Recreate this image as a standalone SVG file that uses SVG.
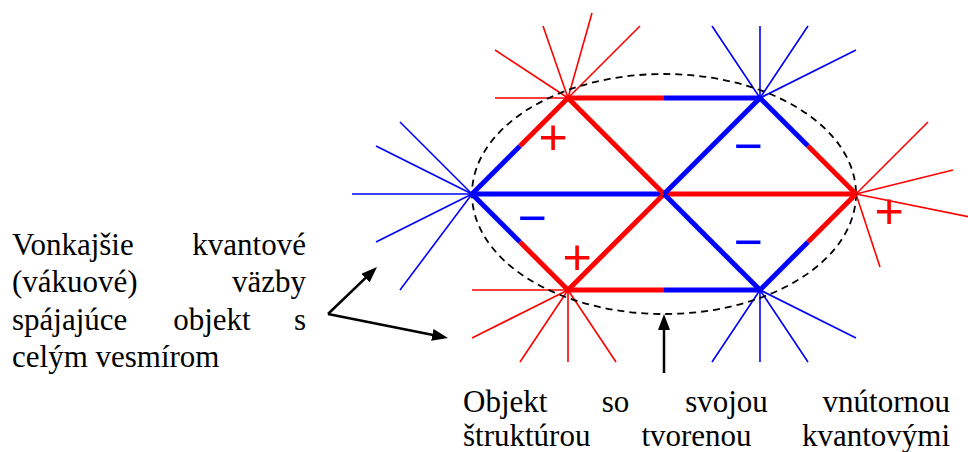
<svg xmlns="http://www.w3.org/2000/svg" width="968" height="452" viewBox="0 0 968 452">
<style>
.r{stroke:#ff0000;stroke-width:1.6;fill:none}
.b{stroke:#0000ff;stroke-width:1.6;fill:none}
.R{stroke:#ff0000;stroke-width:5;fill:none}
.B{stroke:#0000ff;stroke-width:5;fill:none}
.ell{stroke:#000;stroke-width:1.8;fill:none;stroke-dasharray:7 5}
.arr{stroke:#000;stroke-width:2.5;fill:none;marker-end:url(#ah)}
.sg{font-family:'Liberation Sans',Arial,sans-serif;font-size:50px;text-anchor:middle}
.sr{fill:#ff0000}
.sb{fill:#0000ff}
</style>
<defs>
<marker id="ah" markerUnits="userSpaceOnUse" markerWidth="16" markerHeight="12" refX="6" refY="6" orient="auto" viewBox="0 0 16 12">
<path d="M0,0 L16,6 L0,12 z" fill="#000"/>
</marker>
</defs>
<rect width="968" height="452" fill="#fff"/>
<g id="rays">
<g id="rays-TL">
<line class="r" x1="568" y1="98" x2="495" y2="50"/>
<line class="r" x1="568" y1="98" x2="543" y2="26"/>
<line class="r" x1="568" y1="98" x2="592" y2="13"/>
<line class="r" x1="568" y1="98" x2="640" y2="26"/>
<line class="r" x1="568" y1="98" x2="495" y2="98"/>
</g>
<g id="rays-TR">
<line class="b" x1="760" y1="98" x2="712" y2="26"/>
<line class="b" x1="760" y1="98" x2="760" y2="26"/>
<line class="b" x1="760" y1="98" x2="808" y2="26"/>
<line class="b" x1="760" y1="98" x2="856" y2="50"/>
</g>
<g id="rays-L">
<line class="b" x1="472" y1="194" x2="400" y2="122"/>
<line class="b" x1="472" y1="194" x2="376" y2="146"/>
<line class="b" x1="472" y1="194" x2="352" y2="194"/>
<line class="b" x1="472" y1="194" x2="376" y2="242"/>
<line class="b" x1="472" y1="194" x2="400" y2="290"/>
</g>
<g id="rays-R">
<line class="r" x1="856" y1="194" x2="928" y2="122"/>
<line class="r" x1="856" y1="194" x2="953" y2="170"/>
<line class="r" x1="856" y1="194" x2="975" y2="218"/>
<line class="r" x1="856" y1="194" x2="880" y2="267"/>
</g>
<g id="rays-BL">
<line class="r" x1="568" y1="290" x2="472" y2="290"/>
<line class="r" x1="568" y1="290" x2="472" y2="338"/>
<line class="r" x1="568" y1="290" x2="520" y2="362"/>
<line class="r" x1="568" y1="290" x2="568" y2="362"/>
<line class="r" x1="568" y1="290" x2="616" y2="362"/>
</g>
<g id="rays-BR">
<line class="b" x1="760" y1="290" x2="712" y2="362"/>
<line class="b" x1="760" y1="290" x2="760" y2="362"/>
<line class="b" x1="760" y1="290" x2="808" y2="362"/>
<line class="b" x1="760" y1="290" x2="856" y2="338"/>
</g>
</g>
<ellipse id="object-boundary" class="ell" cx="664" cy="194" rx="192" ry="120"/>
<g id="lattice">
<line class="R" x1="568" y1="98" x2="664" y2="98"/>
<line class="B" x1="664" y1="98" x2="760" y2="98"/>
<line class="B" x1="472" y1="194" x2="664" y2="194"/>
<line class="R" x1="664" y1="194" x2="856" y2="194"/>
<line class="R" x1="568" y1="290" x2="664" y2="290"/>
<line class="B" x1="664" y1="290" x2="760" y2="290"/>
<line class="B" x1="472" y1="194" x2="520" y2="146"/>
<line class="R" x1="520" y1="146" x2="568" y2="98"/>
<line class="R" x1="568" y1="98" x2="664" y2="194"/>
<line class="B" x1="760" y1="98" x2="664" y2="194"/>
<line class="B" x1="760" y1="98" x2="808" y2="146"/>
<line class="R" x1="808" y1="146" x2="856" y2="194"/>
<line class="B" x1="472" y1="194" x2="520" y2="242"/>
<line class="R" x1="520" y1="242" x2="568" y2="290"/>
<line class="R" x1="568" y1="290" x2="664" y2="194"/>
<line class="B" x1="664" y1="194" x2="760" y2="290"/>
<line class="B" x1="760" y1="290" x2="808" y2="242"/>
<line class="R" x1="808" y1="242" x2="856" y2="194"/>
</g>
<g id="signs">
<text class="sg sr" x="553" y="154">+</text>
<text class="sg sb" x="748" y="163">−</text>
<text class="sg sb" x="532" y="235">−</text>
<text class="sg sr" x="577" y="274">+</text>
<text class="sg sb" x="748" y="259">−</text>
<text class="sg sr" x="889" y="228">+</text>
</g>
<g id="connectors">
<line class="arr" x1="328" y1="314" x2="369.8" y2="273.9"/>
<line class="arr" x1="328" y1="314" x2="438.2" y2="336"/>
<line class="arr" x1="664" y1="373" x2="664" y2="324"/>
</g>
<g id="label-external" font-family="Liberation Serif, Times New Roman, DejaVu Serif, serif" font-size="31" fill="#000">
<text x="12" y="255">Vonkajšie</text>
<text x="306" y="255" text-anchor="end">kvantové</text>
<text x="12" y="292">(vákuové)</text>
<text x="306" y="292" text-anchor="end">väzby</text>
<text x="12" y="330">spájajúce</text>
<text x="212" y="330" text-anchor="middle">objekt</text>
<text x="306" y="330" text-anchor="end">s</text>
<text x="12" y="367">celým vesmírom</text>
</g>
<g id="label-object" font-family="Liberation Serif, Times New Roman, DejaVu Serif, serif" font-size="31" fill="#000">
<text x="463" y="412">Objekt</text>
<text x="615.5" y="412" text-anchor="middle">so</text>
<text x="726.5" y="412" text-anchor="middle">svojou</text>
<text x="950" y="412" text-anchor="end">vnútornou</text>
<text x="463" y="446">štruktúrou</text>
<text x="696.5" y="446" text-anchor="middle">tvorenou</text>
<text x="950" y="446" text-anchor="end">kvantovými</text>
</g>
</svg>
